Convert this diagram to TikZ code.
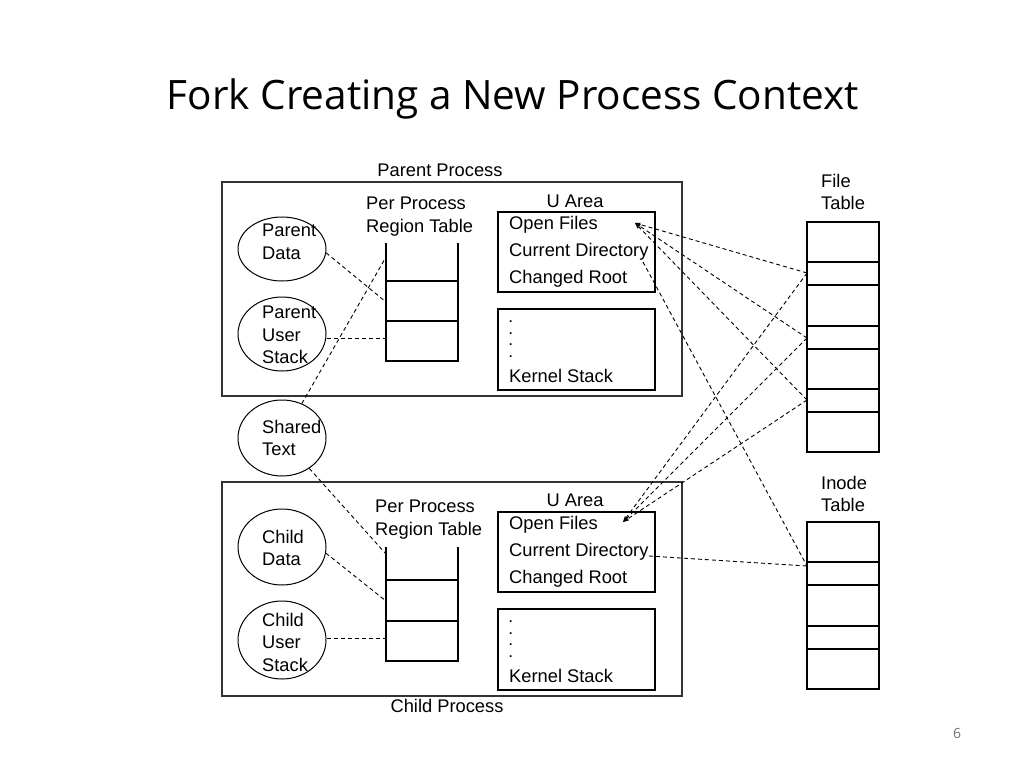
\documentclass[tikz,border=0pt]{standalone}
\usepackage{fontspec}
\setmainfont{Liberation Sans}
\newfontfamily\titlefont{Open Sans}
\usetikzlibrary{arrows.meta,shapes.geometric}
\begin{document}
\begin{tikzpicture}[x=1pt,y=-1pt,
  txt/.style={font=\fontsize{18.3}{22}\selectfont, inner sep=0pt, text height=13pt, text depth=0pt},
  lbl/.style={font=\fontsize{18.3}{22.5}\selectfont, inner sep=0pt, align=left},
  dots/.style={font=\fontsize{12}{11.6}\selectfont\bfseries, inner sep=0pt, align=left, anchor=south west},
  outerbox/.style={draw=black!80, line width=1.4pt, rectangle, inner sep=0pt, outer sep=0pt, anchor=north west},
  ubox/.style={draw, line width=1.1pt, rectangle, inner sep=0pt, outer sep=0pt, anchor=north west, minimum width=157pt},
  oval/.style={draw, ellipse, line width=1pt, minimum width=88pt, minimum height=76pt, inner sep=0pt},
  tbl/.style={draw, line width=1.1pt},
  link/.style={dash pattern=on 4pt off 3pt, line width=0.9pt},
  tip/.style={link, -{Stealth[length=6pt,width=4pt]}},
]
\useasboundingbox (0,0) rectangle (1024,768);

% title
\node[font=\titlefont\fontsize{40.5}{46}\selectfont, anchor=base, inner sep=0pt] (title) at (513,109) {Fork Creating a New Process Context};

% ---------- parent process ----------
\node[lbl] (plabel) at (440,170) {Parent Process};
\node[outerbox, minimum width=460pt, minimum height=214pt] (pbox) at (222,182) {};
\node[oval, minimum height=64pt] (pd) at (282,249) {};
\node[lbl, anchor=west] (pdt) at (262,242) {Parent\\Data};
\node[oval, minimum height=74pt] (pus) at (282,334) {};
\node[lbl, anchor=west] (pust) at (262,335) {Parent\\User\\Stack};

\node[lbl, anchor=north west] (prl) at (366,197) {Per Process\\Region Table};
\draw[tbl] (386,243) -- (386,361) -- (458,361) -- (458,243);
\draw[tbl] (386,281) -- (458,281) (386,321) -- (458,321);
\coordinate (prA) at (386,257);
\coordinate (prB) at (386,302);
\coordinate (prC) at (386,338);

\node[lbl] (pual) at (575,201) {U Area};
\node[ubox, minimum height=80pt] (pu) at (498,212) {};
\node[txt, anchor=west] (pof) at (509,223) {Open Files};
\node[txt, anchor=west] (pcd) at (509,250) {Current Directory};
\node[txt, anchor=west] (pcr) at (509,277) {Changed Root};
\node[ubox, minimum height=81pt] (pk) at (498,309) {};
\node[dots] (pkd) at (509,357.5) {.\\.\\.\\.};
\node[txt, anchor=west] (pks) at (509,376) {Kernel Stack};

% shared text
\node[oval] (st) at (282,438) {};
\node[lbl, anchor=west] (stt) at (262,438) {Shared\\Text};

% ---------- child process ----------
\node[outerbox, minimum width=460pt, minimum height=214pt] (cbox) at (222,482) {};
\node[lbl] (clabel) at (447,706) {Child Process};
\node[oval] (cd) at (282,547) {};
\node[lbl, anchor=west] (cdt) at (262,548) {Child\\Data};
\node[oval, minimum height=78pt] (cus) at (282,640) {};
\node[lbl, anchor=west] (cust) at (262,642) {Child\\User\\Stack};

\node[lbl, anchor=north west] (crl) at (375,500) {Per Process\\Region Table};
\draw[tbl] (386,547) -- (386,661) -- (458,661) -- (458,547);
\draw[tbl] (386,580) -- (458,580) (386,621) -- (458,621);
\coordinate (crA) at (386,554);
\coordinate (crB) at (386,601);
\coordinate (crC) at (386,638);

\node[lbl] (cual) at (575,500) {U Area};
\node[ubox, minimum height=80pt] (cu) at (498,512) {};
\node[txt, anchor=west] (cof) at (509,523) {Open Files};
\node[txt, anchor=west] (ccd) at (509,550) {Current Directory};
\node[txt, anchor=west] (ccr) at (509,577) {Changed Root};
\node[ubox, minimum height=81pt] (ck) at (498,609) {};
\node[dots] (ckd) at (509,657.5) {.\\.\\.\\.};
\node[txt, anchor=west] (cks) at (509,676) {Kernel Stack};

% ---------- file table ----------
\node[lbl, anchor=north west] (ftl) at (821,174) {File\\Table};
\draw[tbl] (807,222) rectangle (879,452);
\draw[tbl] (807,262) -- (879,262) (807,285) -- (879,285)
           (807,326) -- (879,326) (807,349) -- (879,349)
           (807,389) -- (879,389) (807,412) -- (879,412);
\coordinate (ft1) at (807,273);
\coordinate (ft2) at (807,338);
\coordinate (ft3) at (807,400);

% ---------- inode table ----------
\node[lbl, anchor=north west] (itl) at (821,476) {Inode\\Table};
\draw[tbl] (807,522) rectangle (879,689);
\draw[tbl] (807,562) -- (879,562) (807,585) -- (879,585)
           (807,626) -- (879,626) (807,649) -- (879,649);
\coordinate (it1) at (807,566);

% ---------- connectors ----------
\coordinate (pofE) at (635,223);
\coordinate (cofE) at (623,522);
\coordinate (pcdE) at (643,262);
\coordinate (ccdE) at (649,556);

\draw[link] (pd.-5) -- (prB);
\draw[link] (pus.east |- prC) -- (prC);
\draw[link] (st) -- (prA);
\draw[link] (st) -- (crA);
\draw[link] (cd.-8) -- (crB);
\draw[link] (cus.east |- crC) -- (crC);

\draw[tip] (ft1) -- (pofE);
\draw[tip] (ft2) -- (pofE);
\draw[tip] (ft3) -- (pofE);
\draw[tip] (ft1) -- (cofE);
\draw[tip] (ft2) -- (cofE);
\draw[tip] (ft3) -- (cofE);
\draw[link] (pcdE) -- (it1);
\draw[link] (ccdE) -- (it1);

% page number
\node[font=\titlefont\fontsize{14}{16}\selectfont, text=black!55, inner sep=0pt] (pg) at (957,733) {6};
\end{tikzpicture}
\end{document}
